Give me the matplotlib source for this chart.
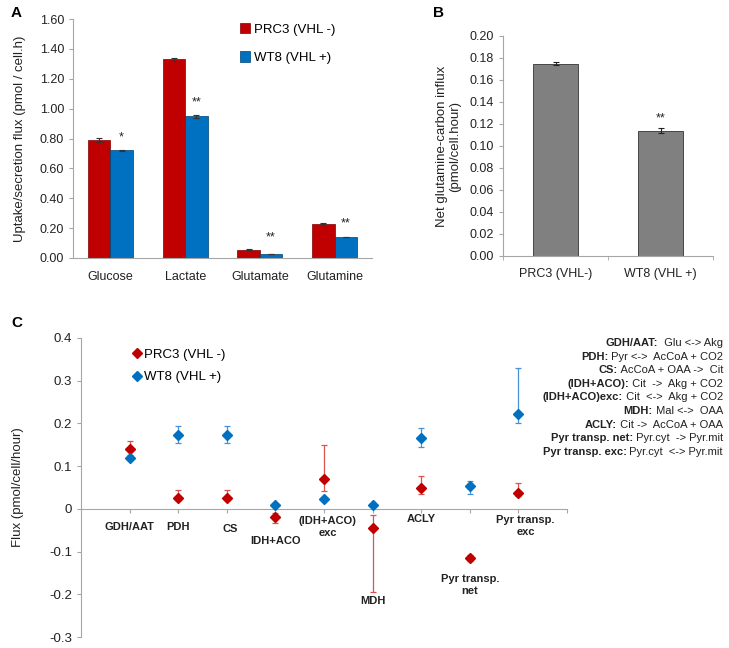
import matplotlib
matplotlib.use("Agg")
import matplotlib.pyplot as plt
import numpy as np
from matplotlib.lines import Line2D

plt.rcParams['font.family'] = ['Liberation Sans', 'DejaVu Sans']

W, H = 729, 648
fig = plt.figure(figsize=(W/100, H/100), dpi=100)

def rect(l, t, r, b):
    return [l/W, (H-b)/H, (r-l)/W, (b-t)/H]

RED = '#C00000'
BLUE = '#0070C0'
AXC = '#A6A6A6'

# ---------------- Panel A data ----------------
a_cats = ['Glucose', 'Lactate', 'Glutamate', 'Glutamine']
a_prc3 = [0.79, 1.33, 0.055, 0.23]
a_prc3_err = [0.012, 0.010, 0.002, 0.002]
a_wt8 = [0.72, 0.95, 0.025, 0.14]
a_wt8_err = [0.003, 0.010, 0.001, 0.001]
a_sig = ['*', '**', '**', '**']
a_sig_y = [0.81, 1.04, 0.14, 0.23]

# ---------------- Panel B data ----------------
b_cats = ['PRC3 (VHL-)', 'WT8 (VHL +)']
b_vals = [0.175, 0.114]
b_err = [0.0015, 0.0020]
b_sig = ['', '**']
b_sig_y = [0.0, 0.125]

# ---------------- Panel C data ----------------
c_cats = ['GDH/AAT', 'PDH', 'CS', 'IDH+ACO', '(IDH+ACO)\nexc', 'MDH', 'ACLY',
          'Pyr transp.\nnet', 'Pyr transp.\nexc']
c_prc3 = [0.140, 0.026, 0.026, -0.020, 0.070, -0.045, 0.049, -0.115, 0.037]
c_prc3_lo = [0.125, 0.020, 0.020, -0.032, 0.042, -0.195, 0.035, -0.123, 0.030]
c_prc3_hi = [0.158, 0.045, 0.045, -0.010, 0.150, -0.015, 0.077, -0.107, 0.061]
c_wt8 = [0.120, 0.172, 0.172, 0.008, 0.022, 0.008, 0.166, 0.054, 0.222]
c_wt8_lo = [0.120, 0.154, 0.154, 0.008, 0.022, 0.008, 0.145, 0.035, 0.200]
c_wt8_hi = [0.120, 0.194, 0.194, 0.008, 0.022, 0.008, 0.190, 0.065, 0.330]
c_label_x = [1.0, 2.0, 3.06, 4.0, 5.08, 6.0, 7.0, 8.0, 9.15]
c_label_y = [-0.042, -0.042, -0.047, -0.075, -0.042, -0.215, -0.023, -0.178, -0.040]

c_notes_bold = ['GDH/AAT:', 'PDH:', 'CS:', '(IDH+ACO):', '(IDH+ACO)exc:', 'MDH:',
                'ACLY:', 'Pyr transp. net:', 'Pyr transp. exc:']
c_notes_rest = ['  Glu <-> Akg', ' Pyr <->  AcCoA + CO2', ' AcCoA + OAA ->  Cit',
                ' Cit  ->  Akg + CO2', ' Cit  <->  Akg + CO2', ' Mal <->  OAA',
                ' Cit ->  AcCoA + OAA', ' Pyr.cyt  -> Pyr.mit', ' Pyr.cyt  <-> Pyr.mit']

def style_axes(ax):
    for s in ['top', 'right']:
        ax.spines[s].set_visible(False)
    for s in ['left', 'bottom']:
        ax.spines[s].set_color(AXC)
        ax.spines[s].set_linewidth(0.8)
    ax.tick_params(axis='both', colors=AXC, labelcolor='#222222', labelsize=9, length=3, width=0.8)

# ---------------- Panel A ----------------
axA = fig.add_axes(rect(73, 19, 372, 258))
x = np.arange(len(a_cats))
bw = 0.3
axA.bar(x - bw/2, a_prc3, bw, color=RED, edgecolor='#7f0000', linewidth=0.5,
        yerr=a_prc3_err, error_kw=dict(ecolor='#333333', elinewidth=0.8, capsize=2.5, capthick=0.8),
        label='PRC3 (VHL -)')
axA.bar(x + bw/2, a_wt8, bw, color=BLUE, edgecolor='#00406f', linewidth=0.5,
        yerr=a_wt8_err, error_kw=dict(ecolor='#333333', elinewidth=0.8, capsize=2.5, capthick=0.8),
        label='WT8 (VHL +)')
for i, (s, yv) in enumerate(zip(a_sig, a_sig_y)):
    axA.text(x[i] + bw/2, yv, s, ha='center', va='center', fontsize=9, color='#222222')
axA.set_xlim(-0.5, len(a_cats) - 0.5)
axA.set_ylim(0, 1.6)
axA.set_yticks(np.arange(0, 1.61, 0.2))
axA.set_yticklabels([f'{v:.2f}' for v in np.arange(0, 1.61, 0.2)])
axA.set_xticks(x)
axA.set_xticklabels(a_cats)
style_axes(axA)
axA.tick_params(axis='x', length=0, pad=9)
axA.set_ylabel('Uptake/secretion flux (pmol / cell.h)', fontsize=9.5, color='#222222', labelpad=10)
axA.legend(loc='upper left', bbox_to_anchor=(0.52, 1.035), frameon=False, fontsize=9.5,
           handlelength=0.7, handleheight=0.9, handletextpad=0.3, labelspacing=1.2)

# ---------------- Panel B ----------------
axB = fig.add_axes(rect(503, 36, 713, 256))
xb = np.arange(len(b_cats))
axB.bar(xb, b_vals, 0.42, color='#808080', edgecolor='#333333', linewidth=0.6,
        yerr=b_err, error_kw=dict(ecolor='#222222', elinewidth=0.8, capsize=2.5, capthick=0.8))
for i, (s, yv) in enumerate(zip(b_sig, b_sig_y)):
    if s:
        axB.text(xb[i], yv, s, ha='center', va='center', fontsize=9, color='#222222')
axB.set_xlim(-0.5, 1.5)
axB.set_ylim(0, 0.2)
yt = np.arange(0, 0.201, 0.02)
axB.set_yticks(yt)
axB.set_yticklabels([f'{v:.2f}' for v in yt])
axB.set_xticks(xb)
axB.set_xticklabels(b_cats)
style_axes(axB)
axB.set_xticks([-0.5, 0.5, 1.5], minor=True)
axB.tick_params(axis='x', which='major', length=0, pad=9)
axB.tick_params(axis='x', which='minor', length=3, color=AXC)
axB.set_ylabel('Net glutamine-carbon influx\n(pmol/cell.hour)', fontsize=9.5, color='#222222',
               labelpad=6, linespacing=1.1)

# ---------------- Panel C ----------------
axC = fig.add_axes(rect(81, 338, 567, 637))
xc = np.arange(1, len(c_cats) + 1)
prc3 = np.array(c_prc3); wt8 = np.array(c_wt8)
axC.errorbar(xc, prc3, yerr=[prc3 - np.array(c_prc3_lo), np.array(c_prc3_hi) - prc3],
             fmt='D', color=RED, ms=5.5, ecolor='#D9534F', elinewidth=0.9, capsize=2.5,
             capthick=0.9, zorder=3)
axC.errorbar(xc, wt8, yerr=[wt8 - np.array(c_wt8_lo), np.array(c_wt8_hi) - wt8],
             fmt='D', color=BLUE, ms=5.5, ecolor='#4A90D9', elinewidth=0.9, capsize=2.5,
             capthick=0.9, zorder=3)
for lab, lx, ly in zip(c_cats, c_label_x, c_label_y):
    axC.text(lx, ly, lab, ha='center', va='center', fontsize=8, fontweight='bold',
             color='#222222', linespacing=1.2)
axC.set_xlim(0, 10)
axC.set_ylim(-0.3, 0.4)
ytc = np.round(np.arange(-0.3, 0.41, 0.1), 1)
axC.set_yticks(ytc)
axC.set_yticklabels(['0' if v == 0 else f'{v:g}' for v in ytc])
for s in ['top', 'right']:
    axC.spines[s].set_visible(False)
axC.spines['bottom'].set_position(('data', 0))
axC.spines['left'].set_color(AXC)
axC.spines['bottom'].set_color(AXC)
axC.set_xticks(np.arange(1, 11))
axC.set_xticklabels([])
axC.tick_params(axis='both', colors=AXC, labelcolor='#222222', labelsize=9.5, length=3, width=0.8)
axC.set_ylabel('Flux (pmol/cell/hour)', fontsize=9.5, color='#222222', labelpad=18)
handles = [Line2D([], [], marker='D', color=RED, ls='none', ms=5.5),
           Line2D([], [], marker='D', color=BLUE, ls='none', ms=5.5)]
axC.legend(handles, ['PRC3 (VHL -)', 'WT8 (VHL +)'], loc='upper left',
           bbox_to_anchor=(0.083, 1.005), frameon=False, fontsize=9.5,
           handlelength=0.6, handletextpad=0.2, labelspacing=0.8)

# right-side notes
renderer = fig.canvas.get_renderer()
xr = 723 / W
for i, (b, r) in enumerate(zip(c_notes_bold, c_notes_rest)):
    yy = (H - (343 + i * 13.6)) / H
    t = fig.text(xr, yy, r, ha='right', va='center', fontsize=8, color='#222222')
    bb = t.get_window_extent(renderer)
    fig.text(bb.x0 / W, yy, b, ha='right', va='center', fontsize=8,
             fontweight='bold', color='#222222')

# panel letters
fig.text(11/W, (H-13)/H, 'A', fontsize=11, fontweight='bold', va='center', ha='left')
fig.text(433/W, (H-13)/H, 'B', fontsize=11, fontweight='bold', va='center', ha='left')
fig.text(11/W, (H-323)/H, 'C', fontsize=11, fontweight='bold', va='center', ha='left')

fig.savefig('out.png', dpi=100)
